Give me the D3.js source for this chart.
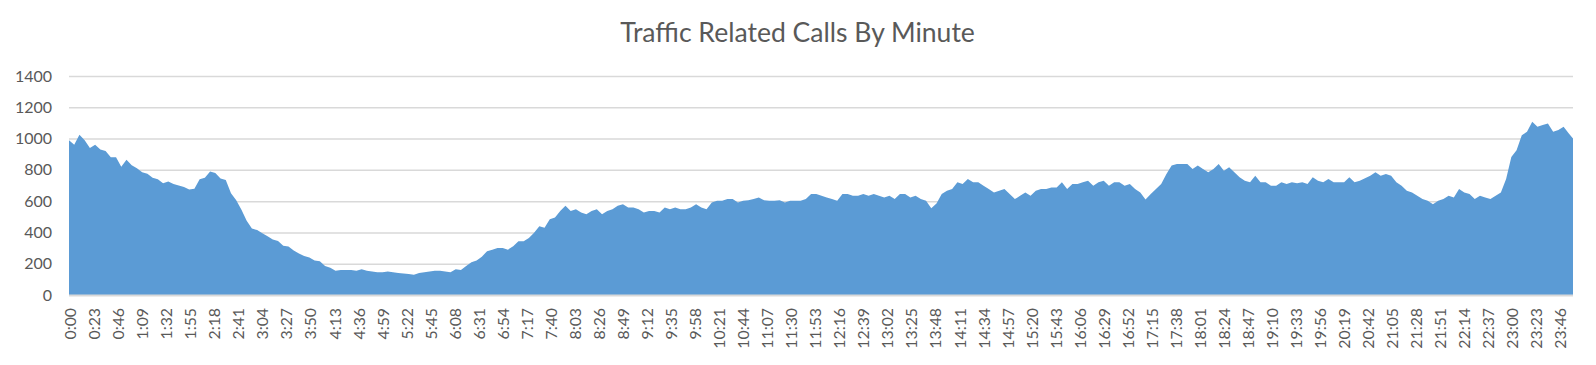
<!DOCTYPE html>
<html><head><meta charset="utf-8">
<script src="https://cdn.jsdelivr.net/npm/d3@7"></script>
<style>
body{margin:0;background:#fff;}
svg{display:block;}
text{font-family:Lato,"Open Sans",sans-serif;fill:#595959;}
</style>
</head><body>
<svg id="chart" width="1596" height="365"></svg>
<script>
const chartTitle = "Traffic Related Calls By Minute";
const yTickValues = [0, 200, 400, 600, 800, 1000, 1200, 1400];
const tickLabels = ["0:00","0:23","0:46","1:09","1:32","1:55","2:18","2:41","3:04","3:27","3:50","4:13","4:36","4:59","5:22","5:45","6:08","6:31","6:54","7:17","7:40","8:03","8:26","8:49","9:12","9:35","9:58","10:21","10:44","11:07","11:30","11:53","12:16","12:39","13:02","13:25","13:48","14:11","14:34","14:57","15:20","15:43","16:06","16:29","16:52","17:15","17:38","18:01","18:24","18:47","19:10","19:33","19:56","20:19","20:42","21:05","21:28","21:51","22:14","22:37","23:00","23:23","23:46"];
// minute of day at which each value was read (every 5 minutes, plus the last minute 23:59)
const sampleMinutes = d3.range(0, 1440, 5).concat([1439]);
const calls = [
990,960,1025,990,940,960,930,920,880,880,820,865,830,810,785,775,750,740,715,725,
710,700,690,675,680,740,750,790,780,745,735,650,605,545,475,425,415,395,375,355,
345,315,310,285,265,250,240,220,215,185,175,155,160,160,160,155,165,155,150,145,
145,150,145,140,138,135,130,140,145,150,155,155,150,145,165,160,185,210,220,245,
280,290,300,300,290,312,344,344,365,398,440,430,484,495,537,570,537,548,527,516,
537,548,516,537,548,570,580,559,559,548,527,537,537,527,559,548,559,548,548,559,
580,559,548,591,602,602,613,613,591,602,606,613,624,606,602,602,606,591,602,602,
602,613,645,645,634,624,613,602,645,645,634,634,645,634,645,634,624,634,613,645,
645,624,634,613,602,555,585,645,667,677,720,710,742,720,720,699,677,656,667,677,
645,613,634,656,634,667,677,677,688,688,720,677,710,710,720,731,699,720,731,699,
720,720,699,710,677,656,610,645,677,710,774,828,838,838,838,806,828,806,785,806,
838,795,817,785,752,731,720,763,720,720,699,699,720,710,720,714,720,710,752,731,
720,742,720,720,720,752,720,731,747,763,785,763,774,763,720,699,667,656,634,613,
602,580,602,613,634,624,677,656,645,613,634,624,613,634,656,742,882,925,1021,1043,
1107,1075,1086,1097,1043,1054,1075,1032,1000
];

const data = sampleMinutes.map((m, i) => ({m, v: calls[i]}));
const svg = d3.select("#chart");
const plotL = 69, plotR = 1573, plotT = 76, plotB = 295;
const x = d3.scaleLinear().domain([0, 1439]).range([plotL, plotR]);
const y = d3.scaleLinear().domain([0, 1400]).range([plotB, plotT]);

// gridlines
const grid = svg.append("g").attr("transform", `translate(${plotL},0)`)
  .call(d3.axisLeft(y).tickValues(yTickValues.filter(v => v > 0)).tickSize(-(plotR - plotL)).tickFormat(""));
grid.select(".domain").remove();
grid.selectAll("line").attr("stroke", "#d9d9d9").attr("stroke-width", 1.5);

// area
svg.append("path").datum(data)
  .attr("fill", "#5b9bd5")
  .attr("d", d3.area().x(d => x(d.m)).y0(y(0)).y1(d => y(d.v)));

// baseline
svg.append("line").attr("x1", plotL).attr("x2", plotR).attr("y1", y(0) + 0.5).attr("y2", y(0) + 0.5)
  .attr("stroke", "#d9d9d9").attr("stroke-width", 2);

// y labels
const yAxis = svg.append("g").attr("transform", `translate(52,0)`)
  .call(d3.axisLeft(y).tickValues(yTickValues).tickSize(0).tickPadding(0).tickFormat(d3.format("d")));
yAxis.select(".domain").remove();
yAxis.selectAll("text").attr("font-size", 16).attr("font-family", "Lato").attr("fill", "#595959");

// x labels
const toMin = s => { const [h, mm] = s.split(":").map(Number); return h * 60 + mm; };
const xl = svg.append("g");
const labels = xl.selectAll("text").data(tickLabels).enter().append("text")
  .attr("text-anchor", "end")
  .attr("font-size", 15.5)
  .attr("dy", "0.36em")
  .text(d => d);
const probe = labels.filter(d => d === "0:00").node().getComputedTextLength();
const sx = 31.5 / probe;
labels.attr("transform", d => `translate(${x(toMin(d)) + 1.5},308) rotate(-90) scale(${sx},1)`);

// title
const t = svg.append("text").attr("x", 797.5).attr("y", 42).attr("text-anchor", "middle")
  .attr("font-size", 22).text(chartTitle);
const tw = t.node().getComputedTextLength();
t.attr("font-size", 22 * 355 / tw);
</script>
</body></html>
